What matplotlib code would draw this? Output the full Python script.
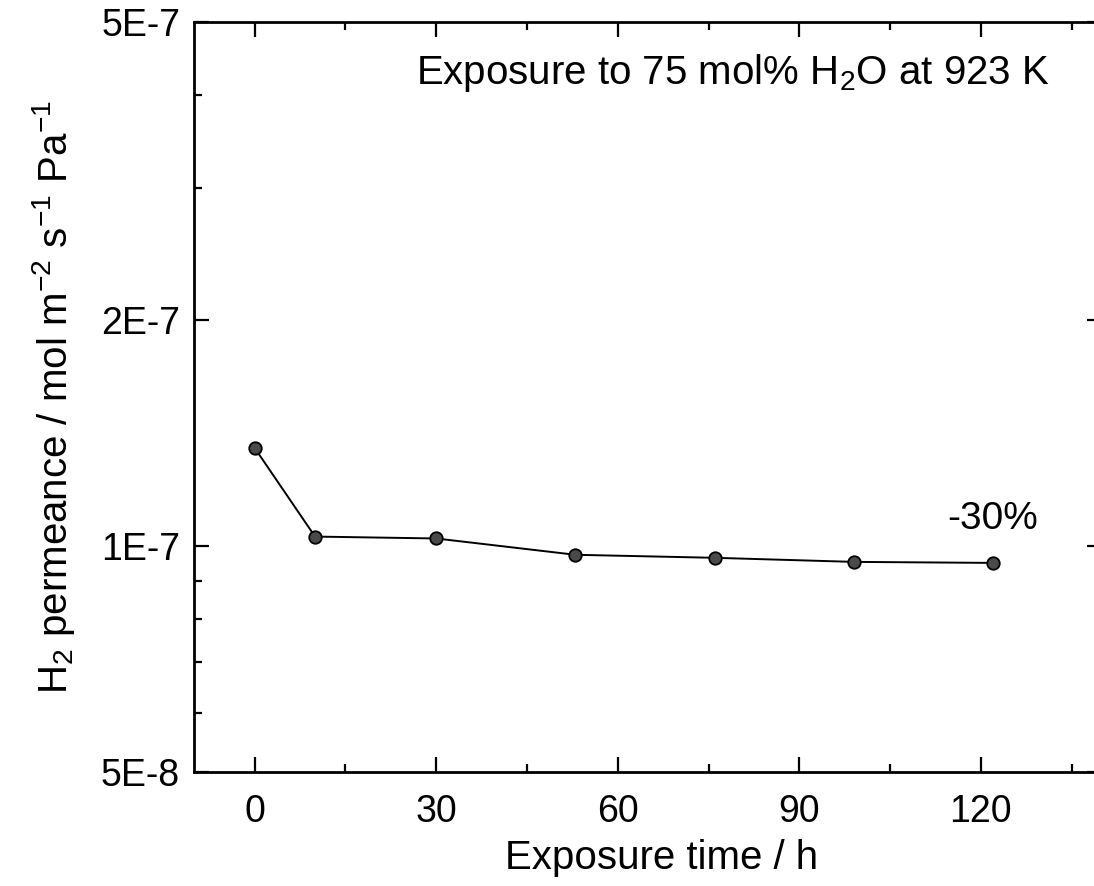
import matplotlib
matplotlib.use("Agg")
import matplotlib.pyplot as plt
from matplotlib.ticker import FixedLocator, NullFormatter

plt.rcParams['font.family'] = ['Liberation Sans', 'DejaVu Sans']
plt.rcParams['mathtext.fontset'] = 'custom'
plt.rcParams['mathtext.rm'] = 'Liberation Sans'
plt.rcParams['mathtext.it'] = 'Liberation Sans:italic'
plt.rcParams['mathtext.default'] = 'rm'

# exposure time (h) and H2 permeance (mol m-2 s-1 Pa-1)
hours = [0, 10, 30, 53, 76, 99, 122]
permeance = [1.353e-7, 1.030e-7, 1.024e-7, 0.974e-7, 0.965e-7, 0.953e-7, 0.950e-7]

y_ticks = [5e-8, 1e-7, 2e-7, 5e-7]
y_tick_labels = ['5E-8', '1E-7', '2E-7', '5E-7']
y_minor = [6e-8, 7e-8, 8e-8, 9e-8, 3e-7, 4e-7]
x_ticks = [0, 30, 60, 90, 120]
x_minor = [15, 45, 75, 105, 135]

fig = plt.figure(figsize=(10.94, 8.86), dpi=100)
ax = fig.add_axes([0.1773, 0.1287, 0.83, 0.8465])

ax.plot(hours, permeance, color='black', lw=1.4, marker='o', markersize=9,
        markerfacecolor='#4a4a4a', markeredgecolor='black', markeredgewidth=1.3)

ax.set_yscale('log')
ax.set_ylim(5e-8, 5e-7)
ax.set_xlim(-10, 140)

ax.yaxis.set_major_locator(FixedLocator(y_ticks))
ax.set_yticklabels(y_tick_labels)
ax.yaxis.set_minor_locator(FixedLocator(y_minor))
ax.yaxis.set_minor_formatter(NullFormatter())
ax.set_xticks(x_ticks)
ax.xaxis.set_minor_locator(FixedLocator(x_minor))

ax.tick_params(which='both', direction='in', top=True, right=True,
               labelsize=27, width=1.6)
ax.tick_params(axis='y', pad=10)
ax.tick_params(axis='x', pad=16)
ax.tick_params(which='major', length=11)
ax.tick_params(which='minor', length=6)
for s in ax.spines.values():
    s.set_linewidth(2)

ax.set_xlabel('Exposure time / h', fontsize=29)
ax.xaxis.set_label_coords(0.515, -0.09)
ax.set_ylabel(r'H$_2$ permeance / mol m$^{-2}$ s$^{-1}$ Pa$^{-1}$', fontsize=29, labelpad=17)

ax.text(131.4, 4.28e-7, r'Exposure to 75 mol% H$_2$O at 923 K',
        fontsize=29, ha='right', va='center')
ax.text(122, 1.087e-7, '-30%', fontsize=28, ha='center', va='center')

fig.savefig('out.png', dpi=100)
